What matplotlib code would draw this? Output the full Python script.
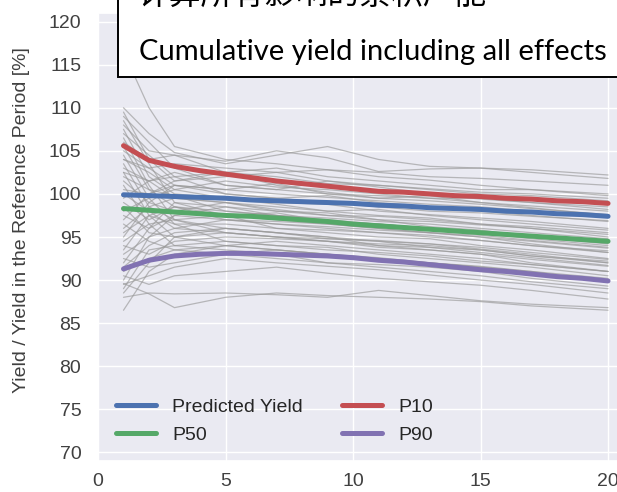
import matplotlib
matplotlib.use("Agg")
import matplotlib.pyplot as plt
import seaborn as sns
from matplotlib.patches import Rectangle

# ---- data -------------------------------------------------------------
years = list(range(1, 21))

predicted_yield = [99.9, 99.8, 99.7, 99.6, 99.5, 99.3, 99.2, 99.1, 99.0, 98.9,
                   98.7, 98.6, 98.4, 98.3, 98.2, 98.0, 97.9, 97.7, 97.6, 97.4]
p10 = [105.6, 103.9, 103.2, 102.7, 102.3, 101.9, 101.5, 101.2, 100.9, 100.6,
       100.3, 100.2, 100.0, 99.8, 99.7, 99.5, 99.4, 99.2, 99.1, 98.9]
p50 = [98.3, 98.1, 97.9, 97.7, 97.5, 97.4, 97.2, 97.0, 96.8, 96.5,
       96.3, 96.1, 95.9, 95.7, 95.5, 95.3, 95.1, 94.9, 94.7, 94.5]
p90 = [91.3, 92.3, 92.8, 93.0, 93.1, 93.1, 93.0, 92.9, 92.8, 92.6,
       92.3, 92.1, 91.8, 91.5, 91.2, 91.0, 90.7, 90.4, 90.2, 89.9]

# individual simulation runs, sampled at these years
sim_years = [1, 2, 3, 5, 7, 9, 11, 13, 15, 17, 20]
sim_runs = [
    [116.5, 110.0, 105.5, 104.0, 103.5, 102.8, 102.0, 101.6, 101.0, 100.5, 99.8],
    [110.0, 107.0, 104.8, 103.5, 104.5, 105.5, 104.0, 103.2, 103.0, 102.8, 102.2],
    [109.5, 104.0, 101.5, 102.5, 101.0, 100.2, 99.5, 99.8, 99.0, 98.4, 97.5],
    [109.0, 106.0, 103.0, 101.0, 100.5, 101.5, 100.8, 100.0, 99.4, 99.0, 98.2],
    [108.5, 103.5, 99.0, 97.5, 97.0, 96.5, 96.0, 95.5, 95.0, 94.2, 93.2],
    [108.0, 105.0, 104.5, 103.8, 105.0, 104.2, 102.6, 102.9, 103.0, 102.5, 101.8],
    [107.5, 102.0, 100.0, 99.5, 98.8, 98.0, 97.5, 97.2, 96.5, 96.0, 95.0],
    [107.0, 104.5, 102.0, 100.0, 99.5, 99.8, 99.0, 98.5, 98.0, 97.5, 96.8],
    [106.5, 101.0, 97.0, 96.0, 95.5, 95.0, 94.0, 93.5, 93.0, 92.0, 91.0],
    [106.0, 104.0, 104.5, 102.5, 103.0, 102.0, 101.5, 101.0, 100.5, 100.5, 100.0],
    [105.5, 100.5, 98.5, 98.0, 97.5, 96.8, 96.5, 96.0, 95.4, 94.8, 94.0],
    [105.0, 103.0, 101.0, 100.5, 101.2, 100.0, 99.5, 99.2, 98.8, 98.3, 97.6],
    [104.5, 99.5, 96.5, 94.5, 94.0, 93.8, 93.0, 92.5, 92.0, 91.5, 90.5],
    [104.0, 102.5, 100.5, 101.5, 100.8, 100.5, 100.0, 99.5, 99.5, 99.0, 98.5],
    [104.0, 103.0, 103.5, 103.0, 102.5, 102.8, 102.5, 102.0, 101.8, 101.5, 101.0],
    [103.5, 98.5, 97.0, 97.5, 96.0, 95.5, 95.0, 94.8, 94.0, 93.5, 92.5],
    [103.0, 101.5, 99.5, 99.0, 98.5, 98.0, 98.2, 97.5, 97.0, 96.5, 95.8],
    [102.5, 97.5, 95.0, 94.0, 93.5, 93.0, 92.6, 92.0, 91.5, 91.0, 89.8],
    [102.5, 101.5, 102.0, 102.5, 102.0, 101.2, 101.0, 100.5, 100.0, 99.8, 99.2],
    [102.0, 100.5, 99.8, 98.0, 97.5, 97.2, 96.8, 96.5, 96.0, 95.5, 94.8],
    [101.5, 99.0, 98.0, 99.0, 98.0, 97.8, 97.0, 96.2, 95.8, 95.0, 94.3],
    [101.0, 96.5, 94.0, 93.5, 93.0, 92.0, 91.8, 91.5, 91.0, 90.2, 89.3],
    [100.5, 100.0, 101.0, 100.0, 99.5, 99.0, 98.5, 98.0, 97.8, 97.4, 96.9],
    [100.0, 98.0, 96.0, 95.5, 95.0, 94.5, 94.2, 94.0, 93.5, 92.8, 92.0],
    [99.5, 101.5, 102.5, 101.0, 100.5, 100.0, 99.8, 99.5, 99.0, 98.6, 98.0],
    [99.0, 97.0, 98.5, 97.0, 96.5, 96.2, 95.8, 95.5, 95.0, 94.5, 93.7],
    [98.5, 95.5, 95.0, 96.0, 95.5, 95.0, 94.5, 93.8, 93.2, 92.6, 91.7],
    [98.0, 99.5, 100.5, 99.5, 99.0, 98.8, 98.0, 97.6, 97.2, 96.8, 96.0],
    [97.5, 96.0, 97.5, 98.5, 97.5, 97.0, 96.5, 96.0, 95.5, 95.2, 94.5],
    [97.0, 100.0, 101.5, 102.0, 102.5, 101.5, 101.0, 100.6, 100.2, 100.0, 99.5],
    [96.5, 94.5, 93.5, 94.0, 94.5, 94.0, 93.5, 93.0, 92.5, 91.8, 91.0],
    [96.0, 98.5, 99.5, 99.0, 98.2, 97.5, 97.0, 96.8, 96.4, 96.0, 95.3],
    [95.5, 97.5, 96.5, 96.5, 96.0, 95.8, 95.5, 95.2, 94.6, 94.0, 93.2],
    [95.0, 99.0, 101.0, 100.5, 100.0, 99.6, 99.2, 98.8, 98.5, 98.0, 97.3],
    [94.5, 96.5, 97.0, 95.5, 95.0, 94.8, 94.6, 94.2, 93.8, 93.2, 92.4],
    [94.0, 93.0, 94.5, 95.0, 94.8, 94.5, 93.8, 93.5, 93.0, 92.4, 91.6],
    [93.5, 97.5, 98.5, 97.5, 97.8, 96.8, 96.5, 96.0, 95.6, 95.0, 94.2],
    [93.0, 95.0, 96.0, 97.0, 96.5, 96.0, 95.5, 95.0, 94.6, 94.0, 93.4],
    [92.5, 91.5, 92.0, 93.0, 92.5, 92.0, 91.5, 91.0, 90.5, 89.8, 89.0],
    [92.0, 96.0, 99.0, 98.5, 98.0, 97.5, 97.4, 97.0, 96.5, 96.2, 95.5],
    [91.5, 94.0, 95.5, 96.0, 95.5, 94.8, 94.5, 94.2, 93.6, 93.0, 92.0],
    [91.0, 92.5, 93.5, 93.0, 93.5, 93.0, 92.4, 92.0, 91.6, 91.0, 90.2],
    [90.5, 89.5, 90.5, 91.0, 91.5, 90.8, 90.2, 89.8, 89.4, 88.8, 87.8],
    [90.0, 95.0, 97.5, 97.0, 96.8, 96.5, 96.0, 95.5, 95.2, 94.6, 93.8],
    [89.6, 88.4, 86.8, 88.0, 88.5, 88.2, 88.0, 87.8, 87.5, 87.0, 86.5],
    [89.5, 90.5, 91.5, 92.5, 92.0, 91.6, 91.2, 90.6, 90.0, 89.5, 88.5],
    [89.0, 93.5, 94.0, 94.5, 94.0, 93.5, 93.2, 92.8, 92.2, 91.8, 91.0],
    [88.5, 92.0, 95.0, 95.5, 95.0, 94.5, 94.0, 93.8, 93.5, 92.8, 92.2],
    [88.0, 88.5, 88.4, 88.5, 88.3, 88.0, 88.8, 88.2, 87.6, 87.2, 86.8],
    [86.5, 91.0, 93.0, 94.0, 93.5, 93.0, 92.5, 92.0, 91.5, 90.8, 90.0],
]

x_ticks = [0, 5, 10, 15, 20]
y_ticks = [70, 75, 80, 85, 90, 95, 100, 105, 110, 115, 120]

title_cn = "计算所有影响的累积产能"
title_en = "Cumulative yield including all effects"

# ---- style ------------------------------------------------------------
sns.set_theme(style="darkgrid")
plt.rcParams["font.family"] = ["Liberation Sans", "DejaVu Sans"]

W, H = 617, 492
fig = plt.figure(figsize=(W / 100, H / 100), dpi=100)
ax = fig.add_axes([98 / W, 31 / H, 533 / W, 448 / H])

for run in sim_runs:
    ax.plot(sim_years, run, color="#999999", lw=0.9, alpha=0.65, zorder=2)

h_pred, = ax.plot(years, predicted_yield, color="#4C72B0", lw=3.6,
                  label="Predicted Yield", zorder=4)
h_p10, = ax.plot(years, p10, color="#C44E52", lw=3.6, label="P10", zorder=4)
h_p50, = ax.plot(years, p50, color="#55A868", lw=3.6, label="P50", zorder=4)
h_p90, = ax.plot(years, p90, color="#8172B2", lw=3.6, label="P90", zorder=4)

ax.set_xlim(0, 20.9)
ax.set_ylim(69, 121)
ax.set_xticks(x_ticks)
ax.set_yticks(y_ticks)
ax.tick_params(axis="both", labelsize=14, labelcolor="#404040")
ax.tick_params(axis="x", pad=3)
ax.tick_params(axis="y", pad=6)

ax.set_ylabel("Yield / Yield in the Reference Period [%]", fontsize=14,
              color="#404040")
ax.yaxis.set_label_coords(-0.128, 0.538)

ax.legend(handles=[h_pred, h_p50, h_p10, h_p90], ncol=2, loc="lower left",
          fontsize=14, frameon=False, handlelength=2.1)

# ---- caption box ------------------------------------------------------
box = Rectangle((118 / W, (H - 77) / H), 1.0, 0.5, transform=fig.transFigure,
                facecolor="white", edgecolor="black", lw=1.4, zorder=10,
                clip_on=False)
fig.add_artist(box)

t_cn = fig.text(138 / W, 1 + 4 / H, title_cn, family=["Noto Sans CJK SC"],
                fontsize=23, va="center", ha="left", color="black", zorder=11)
t_en = fig.text(139 / W, (H - 60) / H, title_en, family=["Lato", "DejaVu Sans"],
                fontsize=23, va="baseline", ha="left", color="black", zorder=11)

renderer = fig.canvas.get_renderer()
for t, target in ((t_en, 469), (t_cn, 350)):
    w = t.get_window_extent(renderer).width
    t.set_fontsize(t.get_fontsize() * target / w)

fig.savefig("out.png", dpi=100)
